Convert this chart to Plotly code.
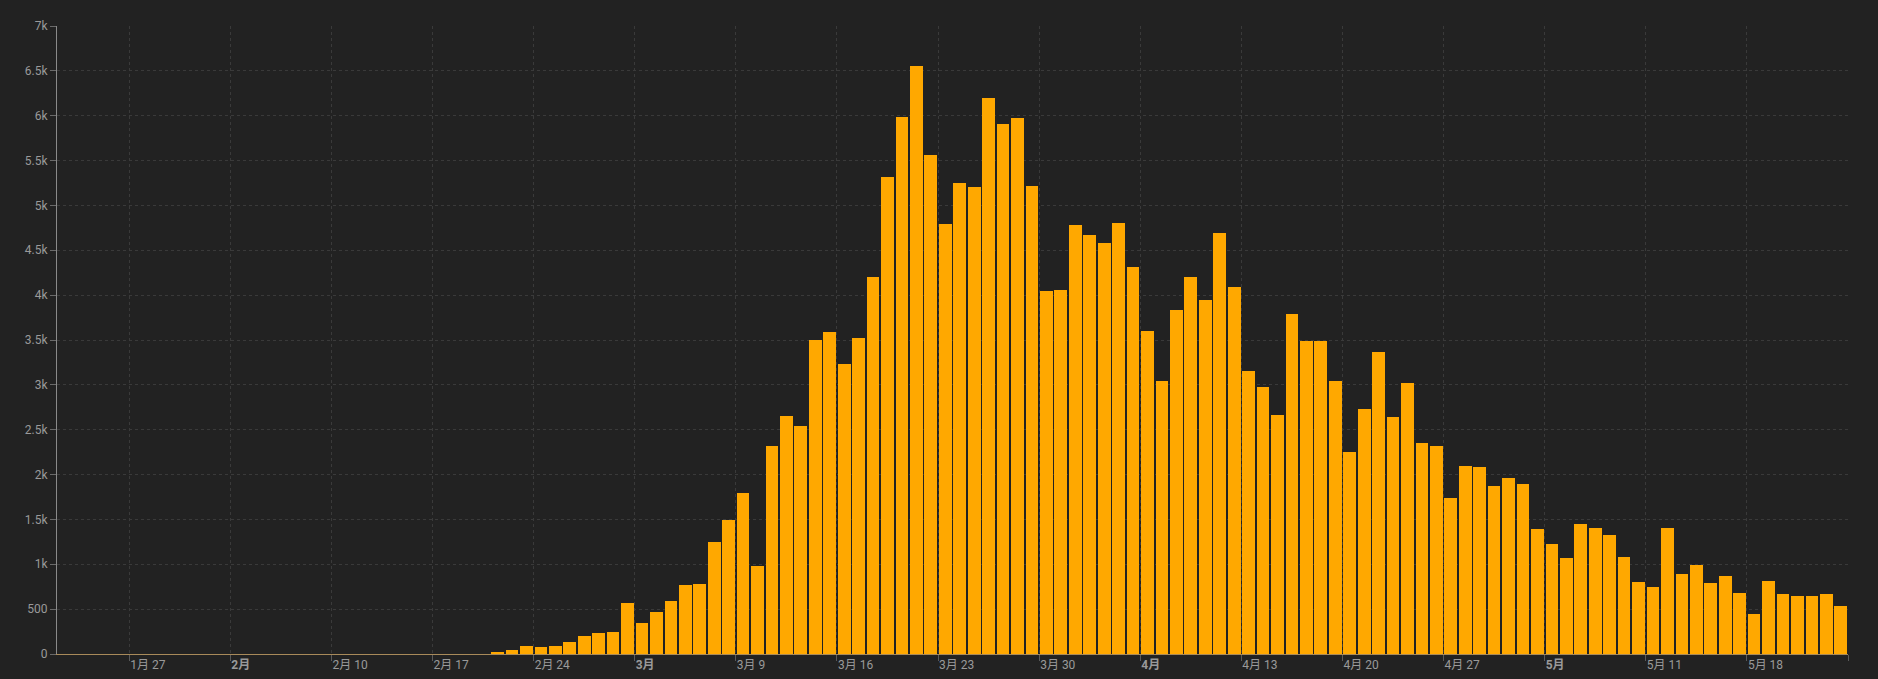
import pandas as pd
import plotly.graph_objects as go

# ---- data ----
start_date = "2020-01-22"
zeros_before = [0] * 30  # Jan 22 .. Feb 20
late_feb = [17, 42, 93, 74, 93, 131, 202, 233, 240]  # Feb 21 .. Feb 29
march = [566, 342, 466, 587, 769, 778, 1247, 1492, 1797, 977,
         2313, 2651, 2547, 3497, 3590, 3233, 3526, 4207, 5322, 5986,
         6557, 5560, 4789, 5249, 5210, 6203, 5909, 5974, 5217, 4050, 4053]
april = [4782, 4668, 4585, 4805, 4316, 3599, 3039, 3836, 4204, 3951,
         4694, 4092, 3153, 2972, 2667, 3786, 3493, 3491, 3047, 2256,
         2729, 3370, 2646, 3021, 2357, 2324, 1739, 2091, 2086, 1872]
may = [1965, 1900, 1389, 1221, 1075, 1444, 1401, 1327, 1083, 802,
       744, 1402, 888, 992, 789, 875, 675, 451, 813, 665,
       642, 652, 669, 531]
cases = zeros_before + late_feb + march + april + may

x_tick_dates = ["2020-01-27", "2020-02-03", "2020-02-10", "2020-02-17", "2020-02-24",
                "2020-03-02", "2020-03-09", "2020-03-16", "2020-03-23", "2020-03-30",
                "2020-04-06", "2020-04-13", "2020-04-20", "2020-04-27", "2020-05-04",
                "2020-05-11", "2020-05-18", "2020-05-25"]
x_tick_text = ["1月 27", "<b>2月</b>", "2月 10", "2月 17", "2月 24",
               "<b>3月</b>", "3月 9", "3月 16", "3月 23", "3月 30",
               "<b>4月</b>", "4月 13", "4月 20", "4月 27", "<b>5月</b>",
               "5月 11", "5月 18", ""]
y_tick_vals = [0, 500, 1000, 1500, 2000, 2500, 3000, 3500, 4000, 4500,
               5000, 5500, 6000, 6500, 7000]
y_tick_text = ["0", "500", "1k", "1.5k", "2k", "2.5k", "3k", "3.5k", "4k", "4.5k",
               "5k", "5.5k", "6k", "6.5k", "7k"]

# ---- figure ----
dates = pd.date_range(start_date, periods=len(cases), freq="D")
x_centers = dates + pd.Timedelta(hours=12)
day_ms = 86400000

fig = go.Figure(go.Bar(
    x=x_centers, y=cases,
    width=day_ms * 0.88,
    marker=dict(color="#ffa800", line=dict(width=0)),
    hoverinfo="x+y",
))

font_family = "Roboto, 'Noto Sans CJK SC', sans-serif"
bg = "#222222"
grid = "#3a3a3a"

fig.update_layout(
    width=1878, height=679,
    paper_bgcolor=bg, plot_bgcolor=bg,
    margin=dict(l=57, r=30, t=26, b=25, autoexpand=False),
    showlegend=False,
    bargap=0,
    font=dict(family=font_family, size=12, color="#9a9a9a"),
    xaxis=dict(
        type="date",
        range=[dates[0], dates[-1] + pd.Timedelta(days=1)],
        tickmode="array", tickvals=x_tick_dates, ticktext=x_tick_text,
        ticklabelposition="outside right",
        ticks="outside", ticklen=6, tickcolor="#5a5a5a",
        showgrid=True, gridcolor=grid, griddash="3px,3px", gridwidth=1,
        showline=True, linecolor="#a88a5a", linewidth=1,
        zeroline=False, automargin=False,
        tickfont=dict(size=12, color="#9a9a9a"),
    ),
    yaxis=dict(
        range=[0, 7000],
        tickmode="array", tickvals=y_tick_vals, ticktext=y_tick_text,
        ticks="outside", ticklen=6, tickcolor="#6a6a6a",
        showgrid=True, gridcolor=grid, griddash="3px,3px", gridwidth=1,
        showline=True, linecolor="#8a8a8a", linewidth=1,
        zeroline=False, automargin=False,
        tickfont=dict(size=12, color="#9a9a9a"),
    ),
)

fig.write_html(
    "out.html",
    config={"displayModeBar": False},
    post_script="document.body.style.margin='0';document.body.style.background='#222222';"
                "document.body.style.overflow='hidden';",
)
